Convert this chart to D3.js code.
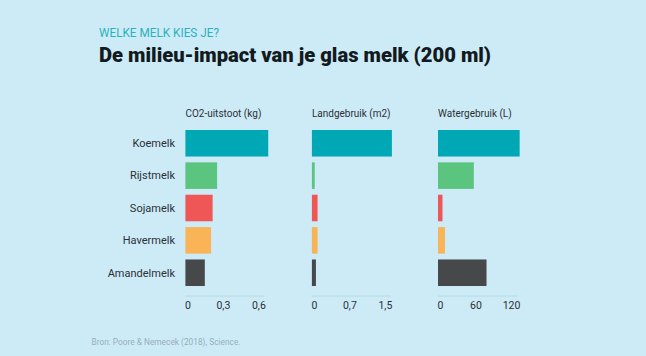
<!DOCTYPE html>
<html><head><meta charset="utf-8">
<script src="https://cdn.jsdelivr.net/npm/d3@7"></script>
<style>
html,body{margin:0;padding:0;background:#cdebf7;}
svg{display:block;font-family:Roboto,"Noto Sans",sans-serif;}
</style></head>
<body><svg id="c" width="646" height="356"></svg>
<script>
const categories = ["Koemelk","Rijstmelk","Sojamelk","Havermelk","Amandelmelk"];
const co2Values = [0.70, 0.268, 0.23, 0.217, 0.164];
const landValues = [1.69, 0.06, 0.12, 0.12, 0.085];
const waterValues = [138, 60.5, 7.6, 11.8, 82];
const panelTitles = ["CO2-uitstoot (kg)","Landgebruik (m2)","Watergebruik (L)"];
const co2Ticks = [0, 0.3, 0.6];
const co2TickLabels = ["0","0,3","0,6"];
const landTicks = [0, 0.75, 1.5];
const landTickLabels = ["0","0,7","1,5"];
const waterTicks = [0, 60, 120];
const waterTickLabels = ["0","60","120"];
const barColors = ["#00a8b6","#5bc47f","#ef5656","#f8b457","#474849"];

const svg = d3.select("#c");
svg.append("rect").attr("width",646).attr("height",356).attr("fill","#cdebf7");

function squeeze(t,w){t.attr("textLength",w).attr("lengthAdjust","spacingAndGlyphs");}

svg.append("text").attr("x",99).attr("y",37).attr("fill","#2ab2bd")
  .attr("font-size",12).attr("font-weight",400).text("WELKE MELK KIES JE?")
  .call(t=>squeeze(t,120));
svg.append("text").attr("x",99).attr("y",62).attr("fill","#121a20")
  .attr("font-size",19.5).attr("font-weight",900).text("De milieu-impact van je glas melk (200 ml)")
  .call(t=>squeeze(t,392));

const y = d3.scaleBand().domain(categories).range([130,286]).paddingInner(0.18).paddingOuter(0);

svg.append("g").selectAll("text").data(categories).join("text")
  .attr("x",175).attr("y",d=>y(d)+y.bandwidth()/2).attr("dy","0.35em")
  .attr("text-anchor","end").attr("font-size",11).attr("fill","#2b3035").text(d=>d);

const panels = [
  {x0:185.4, values:co2Values, ticks:co2Ticks, labels:co2TickLabels, tmax:0.6},
  {x0:311.9, values:landValues, ticks:landTicks, labels:landTickLabels, tmax:1.5},
  {x0:438, values:waterValues, ticks:waterTicks, labels:waterTickLabels, tmax:120}
];
const tickSpan = 71;
panels.forEach((p,i)=>{
  const x = d3.scaleLinear().domain([0,p.tmax]).range([p.x0,p.x0+tickSpan]);
  const g = svg.append("g");
  g.append("text").attr("x",p.x0).attr("y",117).attr("font-size",10).attr("fill","#2b3035").text(panelTitles[i]);
  g.selectAll("rect").data(p.values).join("rect")
    .attr("x",x(0)).attr("y",(d,j)=>y(categories[j]))
    .attr("width",d=>x(d)-x(0)).attr("height",y.bandwidth())
    .attr("fill",(d,j)=>barColors[j]);
  const axis = d3.axisBottom(x).tickValues(p.ticks).tickFormat((d,j)=>p.labels[j]).tickSize(0).tickPadding(6);
  const ag = g.append("g").attr("transform","translate(0,296)").call(axis);
  ag.select(".domain").attr("d",`M${p.x0},0H${p.x0+79}`).attr("stroke","#b7d8e5").attr("stroke-width",1);
  ag.selectAll("text").attr("font-size",10.5).attr("fill","#2b3035").attr("dx",2).attr("font-family","Roboto,sans-serif");
});

svg.append("text").attr("x",91.5).attr("y",345).attr("font-size",9).attr("fill","#98aeb8")
  .text("Bron: Poore & Nemecek (2018), Science.").call(t=>squeeze(t,149));
</script></body></html>
